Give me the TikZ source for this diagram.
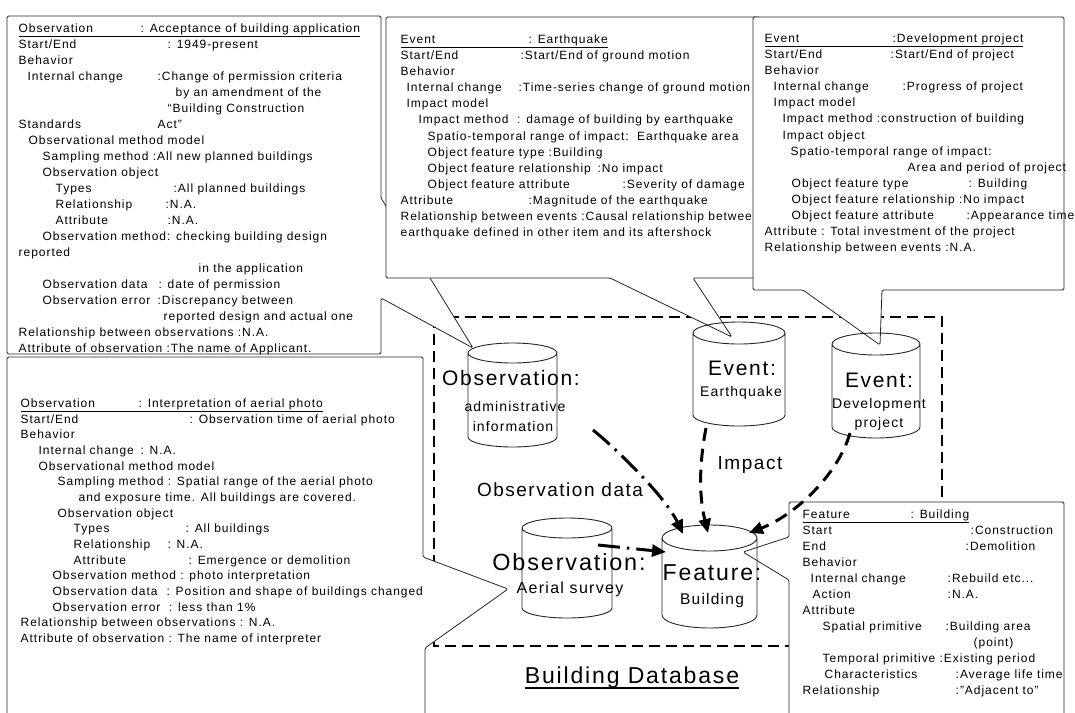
\documentclass[tikz,border=0pt]{standalone}
\usepackage{fontspec}
\setmainfont{Liberation Sans}[LetterSpace=8]
\usetikzlibrary{shapes.geometric,arrows.meta,positioning,calc}

% one column entry of a memo line, placed at a fixed offset
\newcommand{\tcol}[2]{\rlap{\hspace*{#1pt}#2}}
% database drum around a named node, #2 = half height of the end ellipse
\newcommand{\dbcylinder}[2]{%
  \draw[dbline] let \p1=($(#1.north east)-(#1.north west)$) in
    ([yshift=-#2pt]#1.north west) -- ([yshift=#2pt]#1.south west)
    arc[start angle=180, end angle=360, x radius=0.5*\x1, y radius=#2pt]
    -- ([yshift=-#2pt]#1.north east)
    arc[start angle=0, end angle=360, x radius=0.5*\x1, y radius=#2pt];}

\tikzset{
  callout/.style={draw=black!85, fill=white, line width=0.8pt, rounded corners=1.5pt},
  memo/.style={inner sep=0pt, anchor=north west, align=left,
    font=\fontsize{12}{16}\selectfont},
  dbnode/.style={rectangle, inner sep=0pt, outer sep=0pt},
  dbline/.style={draw=black!85, line width=0.9pt},
  dbname/.style={inner sep=0pt, font=\fontsize{#1}{#1}\selectfont},
  impactflow/.style={line width=3pt, dash pattern=on 13pt off 8pt,
    -{Triangle[length=14pt,width=12pt]}},
  obsflow/.style={line width=3pt, dash pattern=on 22pt off 7pt on 2.5pt off 7pt,
    -{Triangle[length=14pt,width=12pt]}}
}

\begin{document}
\begin{tikzpicture}[x=1pt, y=-1pt]
\useasboundingbox (0,0) rectangle (1075,712);

% database frame
\draw[line width=2.5pt, dash pattern=on 11pt off 6pt] (434,317) rectangle (942,646);

% callout boxes
\draw[callout] (7,357) -- (423,357) -- (423,557) -- (508,589) -- (425,648) -- (425,720) -- (7,720) -- cycle;
\draw[callout] (7,16) -- (381,16) -- (381,198) -- (473,348) -- (381,298) -- (381,354) -- (7,354) -- cycle;
\draw[callout] (386,17) -- (760,17) -- (760,278) -- (693,278) -- (732,337) -- (610,278) -- (386,278) -- cycle;
\draw[callout] (789,502) -- (1064,502) -- (1064,720) -- (789,720) -- (789,580) -- (743,552) -- (789,537) -- cycle;

% memo texts
\node[memo] (acctxt) at (18,23.6) {%
\tcol{0}{\underline{\makebox[122pt][l]{Observation}: Acceptance of building application}}\\
\tcol{0}{Start/End}\tcol{149}{: 1949-present}\\
\tcol{0}{Behavior}\\
\tcol{9}{Internal change}\tcol{139}{:Change of permission criteria}\\
\tcol{157}{by an amendment of the}\\
\tcol{149}{“Building Construction}\\
\tcol{0}{Standards}\tcol{139}{Act”}\\
\tcol{10}{Observational method model}\\
\tcol{24}{Sampling method :All new planned buildings}\\
\tcol{24}{Observation object}\\
\tcol{37}{Types}\tcol{155}{:All planned buildings}\\
\tcol{37}{Relationship}\tcol{147}{:N.A.}\\
\tcol{37}{Attribute}\tcol{149}{:N.A.}\\
\tcol{24}{Observation method: checking building design}\\
\tcol{0}{reported}\\
\tcol{180}{in the application}\\
\tcol{24}{Observation data}\tcol{140}{: date of permission}\\
\tcol{24}{Observation error}\tcol{139}{:Discrepancy between}\\
\tcol{145}{reported design and actual one}\\
\tcol{0}{Relationship between observations :N.A.}\\
\tcol{0}{Attribute of observation :The name of Applicant.}};

\node[memo, font=\fontsize{12}{16.1}\selectfont] (eqtxt) at (400,34.6) {%
\tcol{0}{\underline{\makebox[128pt][l]{Event}: Earthquake}}\\
\tcol{0}{Start/End}\tcol{120}{:Start/End of ground motion}\\
\tcol{0}{Behavior}\\
\tcol{6}{Internal change}\tcol{118}{:Time-series change of ground motion}\\
\tcol{6}{Impact model}\\
\tcol{18}{Impact method\ \ : damage of building by earthquake}\\
\tcol{27}{Spatio-temporal range of impact:\ \ Earthquake area}\\
\tcol{27}{Object feature type :Building}\\
\tcol{27}{Object feature relationship}\tcol{197}{:No impact}\\
\tcol{27}{Object feature attribute}\tcol{222}{:Severity of damage}\\
\tcol{0}{Attribute}\tcol{128}{:Magnitude of the earthquake}\\
\tcol{0}{Relationship between events :Causal relationship between}\\
\tcol{0}{earthquake defined in other item and its aftershock}};

\draw[callout] (753,17) -- (1064,17) -- (1064,290) -- (882,290) -- (880,345) -- (803,290) -- (753,290) -- cycle;
\node[memo, font=\fontsize{12}{16.1}\selectfont] (devtxt) at (764,33.6) {%
\tcol{0}{\underline{\makebox[128pt][l]{Event}:Development project}}\\
\tcol{0}{Start/End}\tcol{126}{:Start/End of project}\\
\tcol{0}{Behavior}\\
\tcol{9}{Internal change}\tcol{138}{:Progress of project}\\
\tcol{9}{Impact model}\\
\tcol{18}{Impact method :construction of building}\\
\tcol{18}{Impact object}\\
\tcol{26}{Spatio-temporal range of impact:}\\
\tcol{143}{Area and period of project}\\
\tcol{27}{Object feature type}\tcol{204}{: Building}\\
\tcol{27}{Object feature relationship :No impact}\\
\tcol{27}{Object feature attribute}\tcol{202}{:Appearance time}\\
\tcol{0}{Attribute : Total investment of the project}\\
\tcol{0}{Relationship between events :N.A.}};

\node[memo, font=\fontsize{12}{15.67}\selectfont] (aertxt) at (20,398.6) {%
\tcol{0}{\underline{\makebox[118pt][l]{Observation}: Interpretation of aerial photo}}\\
\tcol{0}{Start/End}\tcol{169}{: Observation time of aerial photo}\\
\tcol{0}{Behavior}\\
\tcol{18}{Internal change}\tcol{120}{: N.A.}\\
\tcol{18}{Observational method model}\\
\tcol{37}{Sampling method : Spatial range of the aerial photo}\\
\tcol{58}{and exposure time. All buildings are covered.}\\
\tcol{37}{Observation object}\\
\tcol{53}{Types}\tcol{165}{: All buildings}\\
\tcol{53}{Relationship}\tcol{147}{: N.A.}\\
\tcol{53}{Attribute}\tcol{168}{: Emergence or demolition}\\
\tcol{32}{Observation method : photo interpretation}\\
\tcol{32}{Observation data}\tcol{146}{: Position and shape of buildings changed}\\
\tcol{32}{Observation error\ \ : less than 1\%}\\
\tcol{0}{Relationship between observations : N.A.}\\
\tcol{0}{Attribute of observation : The name of interpreter}};

\node[memo] (feattxt) at (802,509.6) {%
\tcol{0}{\underline{\makebox[108pt][l]{Feature}: Building}}\\
\tcol{0}{Start}\tcol{168}{:Construction}\\
\tcol{0}{End}\tcol{163}{:Demolition}\\
\tcol{0}{Behavior}\\
\tcol{8}{Internal change}\tcol{145}{:Rebuild etc...}\\
\tcol{10}{Action}\tcol{145}{:N.A.}\\
\tcol{0}{Attribute}\\
\tcol{20}{Spatial primitive}\tcol{143}{:Building area}\\
\tcol{171}{(point)}\\
\tcol{20}{Temporal primitive :Existing period}\\
\tcol{22}{Characteristics}\tcol{153}{:Average life time}\\
\tcol{0}{Relationship}\tcol{153}{:"Adjacent to"}};

% databases
\node[dbnode, minimum width=89pt, minimum height=104pt] (adm) at (512.5,395) {};
\node[dbnode, minimum width=92pt, minimum height=104pt] (quake) at (739,374) {};
\node[dbnode, minimum width=88pt, minimum height=105pt] (devp) at (876,385.5) {};
\node[dbnode, minimum width=90pt, minimum height=100pt] (aer) at (567,568) {};
\node[dbnode, minimum width=95pt, minimum height=103pt] (feat) at (709.5,576.5) {};
\dbcylinder{adm}{10}
\dbcylinder{quake}{11}
\dbcylinder{devp}{11}
\dbcylinder{aer}{10}
\dbcylinder{feat}{13}

\node[dbname=21] (admT) at (511,378) {Observation:};
\node[dbname=14] (admS) at (515,406) {administrative};
\node[dbname=14] (admI) at (513,426) {information};
\node[dbname=21] (quakeT) at (742,368) {Event:};
\node[dbname=14] (quakeS) at (741,393) {Earthquake};
\node[dbname=21] (devpT) at (879,380) {Event:};
\node[dbname=14] (devpS) at (879,405) {Development};
\node[dbname=14] (devpP) at (879,424) {project};
\node[dbname=23.4] (aerT) at (569,562) {Observation:};
\node[dbname=16] (aerS) at (570,589) {Aerial survey};
\node[dbname=23] (featT) at (712,573) {Feature:};
\node[dbname=15.5] (featS) at (712,600) {Building};

% flows into the feature
\coordinate (odS) at (593,430);
\coordinate (odE) at (683,534);
\coordinate (asS) at (598,545);
\coordinate (asE) at (666,552);
\coordinate (eqS) at (706,428);
\coordinate (eqE) at (708,533);
\coordinate (dvS) at (850,433);
\coordinate (dvE) at (749,533);

\draw[obsflow] (odS) .. controls (620,452) and (666,498) .. (odE);
\draw[obsflow] (asS) -- (asE);
\draw[impactflow] (eqS) .. controls (698,470) and (700,500) .. (eqE);
\draw[impactflow] (dvS) .. controls (838,475) and (795,515) .. (dvE);

\node[dbname=19] (odlbl) at (560,490) {Observation data};
\node[dbname=19] (implbl) at (750,465) {Impact};

\node[dbname=23, anchor=base] (bdb) at (632,683) {Building Database};
\draw[line width=1.6pt] ([yshift=-5pt]bdb.base west) -- ([yshift=-5pt]bdb.base east);
\end{tikzpicture}
\end{document}
